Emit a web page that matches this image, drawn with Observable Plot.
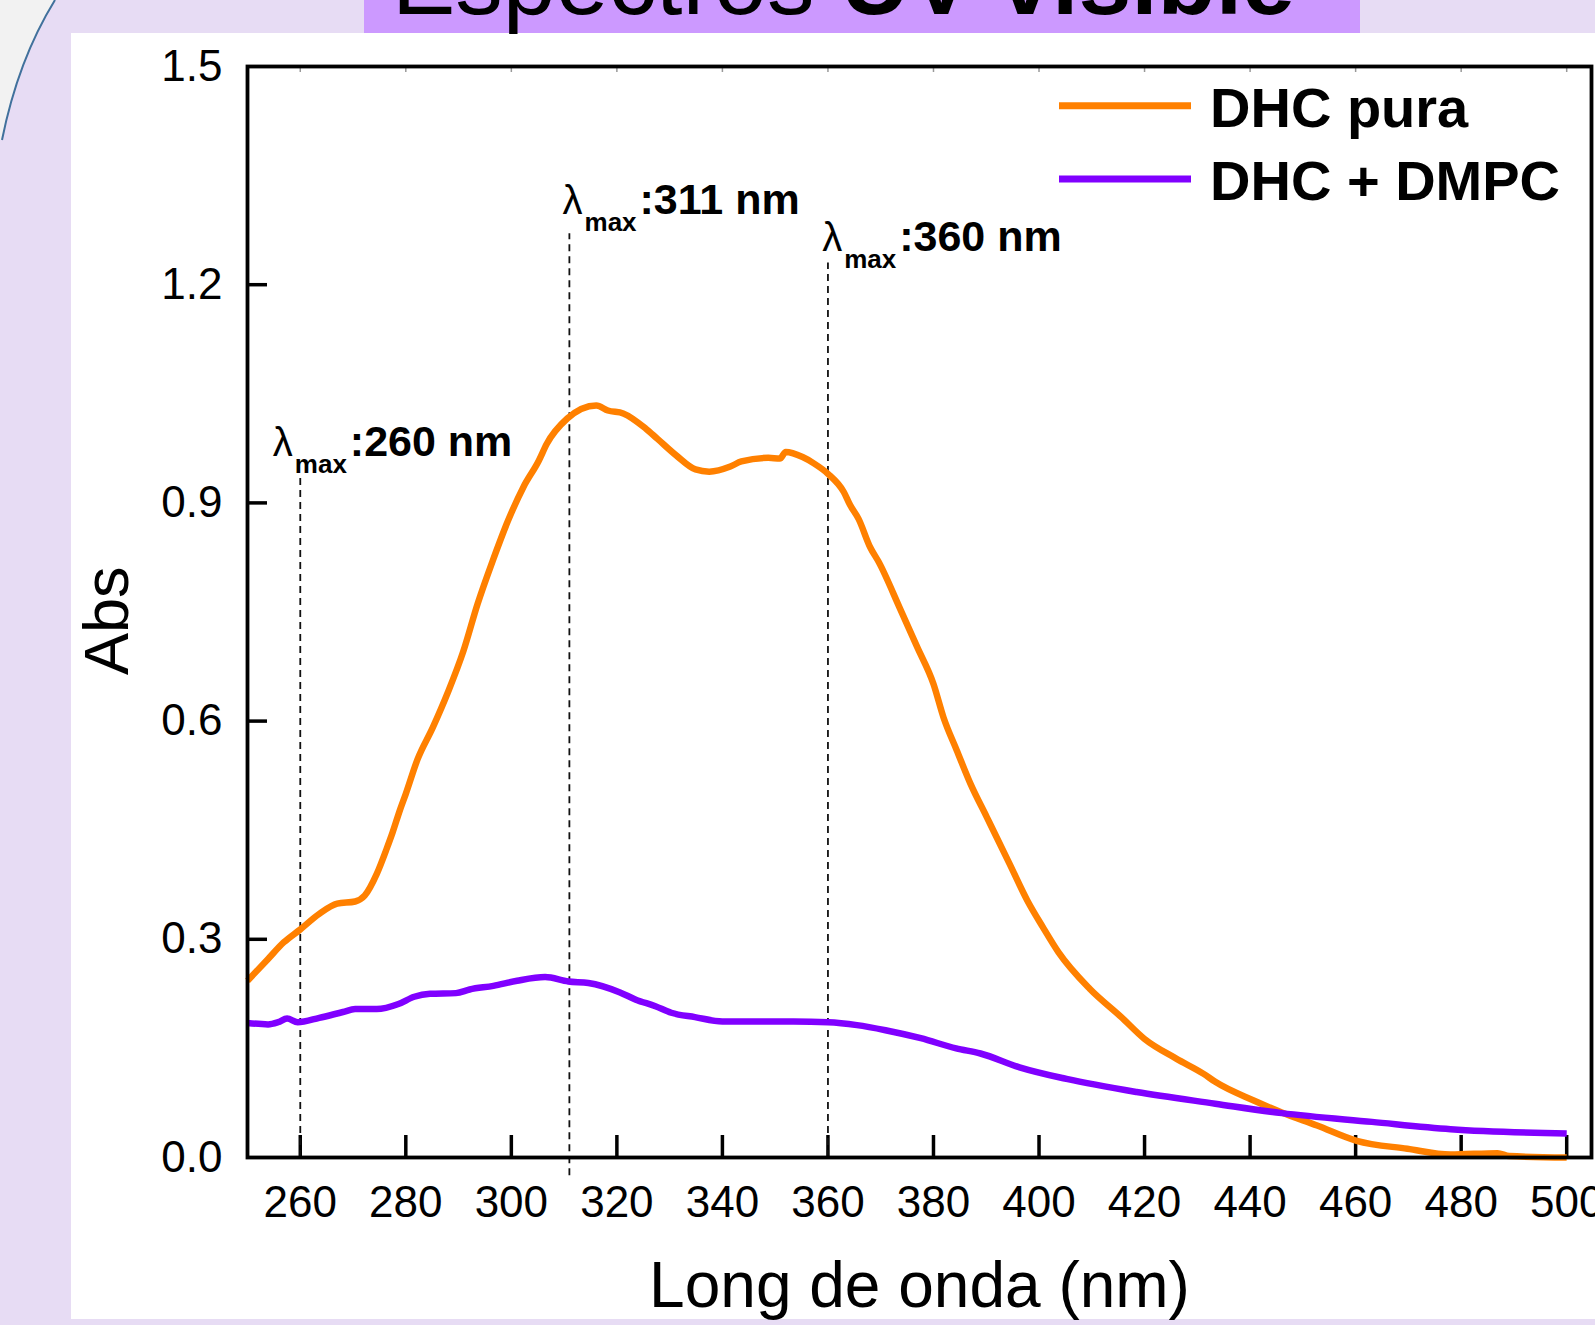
<!DOCTYPE html>
<html><head><meta charset="utf-8">
<script src="https://cdn.jsdelivr.net/npm/d3@7"></script>
<script src="https://cdn.jsdelivr.net/npm/@observablehq/plot@0.6"></script>
<style>
html,body{margin:0;padding:0;}
body{width:1595px;height:1325px;background:#e7dcf4;position:relative;overflow:hidden;font-family:"Liberation Sans",Arial,sans-serif;}
#deco{position:absolute;left:0;top:0;}
#panel{position:absolute;left:71px;top:33px;width:1524px;height:1286px;background:#fff;}
#titlebox{position:absolute;left:364px;top:0;width:996px;height:33px;background:#cc99ff;}
#chart{position:absolute;left:0;top:0;}
#over{position:absolute;left:0;top:0;pointer-events:none;}
</style></head><body>
<svg id="deco" width="120" height="200"><path d="M0,0 L55,0 Q18,60 2,140 L0,140 Z" fill="#f2f2f2"/><path d="M55,0 Q18,60 2,140" fill="none" stroke="#41719c" stroke-width="2"/></svg>
<div id="panel"></div>
<div id="titlebox"></div>
<div id="chart"></div>
<svg id="over" width="1595" height="1325"></svg>
<script>
// ---- data ----
const seriesNames = ["DHC pura", "DHC + DMPC"];
const seriesColors = ["#ff8000", "#8000ff"];

const puraNm  = [250.0,253.9,256.9,259.9,263.6,267.0,270.4,272.2,274.5,276.4,277.5,278.9,280.0,282.2,285.1,288.0,290.9,293.6,296.5,299.4,302.3,305.2,306.7,310.6,316.1,318.3,321.2,325.5,327.7,331.3,334.9,337.5,341.5,343.6,348.7,350.9,352.0,355.2,357.4,360.0,363.0,364.2,365.8,368.0,369.6,373.7,376.9,380.0,381.9,384.4,387.0,390.1,394.4,397.8,400.7,403.7,409.6,415.6,420.0,426.0,431.2,433.4,440.8,446.0,452.7,460.2,469.8,478.0,486.9,489.1,500.0];
const puraAbs = [0.243,0.273,0.296,0.313,0.335,0.349,0.352,0.360,0.390,0.425,0.447,0.478,0.500,0.547,0.591,0.640,0.696,0.761,0.821,0.876,0.922,0.958,0.981,1.016,1.034,1.027,1.023,1.002,0.988,0.965,0.946,0.943,0.950,0.957,0.962,0.961,0.970,0.963,0.954,0.940,0.915,0.897,0.878,0.839,0.819,0.754,0.702,0.651,0.605,0.560,0.514,0.468,0.404,0.353,0.317,0.282,0.232,0.193,0.163,0.136,0.115,0.104,0.078,0.062,0.044,0.023,0.012,0.004,0.006,0.002,0.000];

const dmpcNm  = [250.0,253.9,255.8,257.5,259.5,263.6,268.1,270.4,274.5,278.6,281.6,284.6,289.5,292.1,296.6,301.1,306.4,310.8,314.6,320.6,323.6,327.3,330.3,334.8,340.0,346.0,353.5,360.0,365.5,370.9,377.6,384.3,388.9,396.3,405.2,418.5,433.4,446.0,463.1,478.0,500.0];
const dmpcAbs = [0.185,0.183,0.186,0.191,0.186,0.192,0.200,0.204,0.204,0.211,0.221,0.225,0.226,0.231,0.236,0.243,0.248,0.242,0.240,0.227,0.217,0.208,0.199,0.193,0.187,0.187,0.187,0.186,0.182,0.175,0.164,0.150,0.143,0.124,0.108,0.090,0.074,0.061,0.049,0.039,0.033];

const xTicks = [260,280,300,320,340,360,380,400,420,440,460,480,500];
const yTicks = [0.0,0.3,0.6,0.9,1.2,1.5];
const yInnerTicks = [0.3,0.6,0.9,1.2];

const peakNm     = [260, 311, 360];
const peakLabels = [":260 nm", ":311 nm", ":360 nm"];
const peakBottom = [0, -0.025, 0];
const peakTop    = [0.94, 1.27, 1.23];
const labelNm    = [254.8, 309.7, 358.9];
const labelAbs   = [0.965, 1.2966, 1.247];

const xLabel = "Long de onda (nm)";
const yLabel = "Abs";
const titleText = ["Espectros ", "UV-visible"];

// ---- build tables ----
const rows = [
  ...puraNm.map((x, i) => ({series: seriesNames[0], nm: x, abs: puraAbs[i]})),
  ...dmpcNm.map((x, i) => ({series: seriesNames[1], nm: x, abs: dmpcAbs[i]}))
];
const peaks = peakNm.map((x, i) => ({nm: x, y1: peakBottom[i], y2: peakTop[i], lx: labelNm[i], ly: labelAbs[i], text: peakLabels[i]}));

const W = 1595, H = 1325, mL = 247, mR = 4, mT = 66, mB = 168;
const innerW = W - mL - mR, innerH = H - mT - mB;
const font = "Liberation Sans, Arial, sans-serif";

const chart = Plot.plot({
  width: W, height: H,
  marginLeft: mL, marginRight: mR, marginTop: mT, marginBottom: mB,
  x: {domain: [250, 504.7]},
  y: {domain: [0, 1.5]},
  color: {domain: seriesNames, range: seriesColors},
  style: {background: "transparent", fontFamily: font, color: "black", overflow: "visible"},
  marks: [
    Plot.axisX(xTicks, {tickSize: 0, tickPadding: 28, fontSize: 44, label: null, fill: "black"}),
    Plot.axisY(yTicks, {tickSize: 0, tickPadding: 25, fontSize: 44, label: null, tickFormat: d => d.toFixed(1), fill: "black"}),
    Plot.tickX(xTicks, {x: d => d, insetTop: innerH - 22, stroke: "black", strokeWidth: 3.5}),
    Plot.tickX(xTicks, {x: d => d, insetBottom: innerH - 6, stroke: "#999", strokeWidth: 1.5}),
    Plot.tickY(yInnerTicks, {y: d => d, insetRight: innerW - 20, stroke: "black", strokeWidth: 3.5}),
    Plot.ruleX(peaks, {x: "nm", y1: "y1", y2: "y2", stroke: "#111", strokeWidth: 1.8, strokeDasharray: "7,5"}),
    Plot.line(rows, {x: "nm", y: "abs", z: "series", stroke: "series", strokeWidth: 6.5, strokeLinejoin: "round", strokeLinecap: "butt", curve: "monotone-x"}),
    Plot.text(peaks, {x: "lx", y: "ly", text: () => "λ", textAnchor: "start", lineAnchor: "bottom", fontSize: 40, fill: "black"}),
    Plot.text(peaks, {x: "lx", y: "ly", text: () => "max", textAnchor: "start", lineAnchor: "bottom", fontSize: 26, fontWeight: "bold", dx: 22, dy: 17, fill: "black"}),
    Plot.text(peaks, {x: "lx", y: "ly", text: "text", textAnchor: "start", lineAnchor: "bottom", fontSize: 43, fontWeight: "bold", dx: 77, fill: "black"}),
    Plot.text([yLabel], {frameAnchor: "left", text: d => d, rotate: -90, dx: -140, dy: 63, fontSize: 63, lineAnchor: "middle", fill: "black"}),
    Plot.text([xLabel], {frameAnchor: "bottom", text: d => d, dy: 129, fontSize: 64, lineAnchor: "middle", fill: "black"}),
    Plot.frame({stroke: "black", strokeWidth: 3.8})
  ]
});
document.getElementById("chart").appendChild(chart);

// ---- title and legend overlay ----
const over = d3.select("#over").style("font-family", font);
const t = over.append("text").attr("x", 392).attr("y", 14).attr("font-size", 95).attr("fill", "black");
t.append("tspan").text(titleText[0]);
t.append("tspan").attr("font-weight", "bold").text(titleText[1]);

const legY = [105.7, 179];
const legTextY = [127, 199.5];
seriesNames.forEach((name, i) => {
  over.append("line").attr("x1", 1059).attr("x2", 1191).attr("y1", legY[i]).attr("y2", legY[i])
    .attr("stroke", seriesColors[i]).attr("stroke-width", 7);
  over.append("text").attr("x", 1210).attr("y", legTextY[i]).attr("font-size", 56)
    .attr("font-weight", "bold").attr("fill", "black").text(name);
});
</script>
</body></html>
